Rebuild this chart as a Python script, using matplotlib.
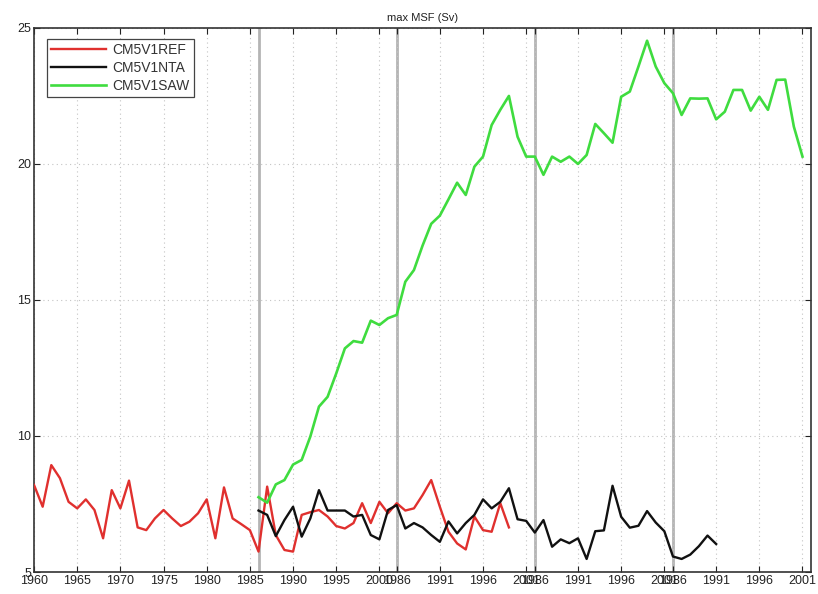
import numpy as np
import matplotlib
matplotlib.use("Agg")
import matplotlib.pyplot as plt

plt.rcParams['font.family'] = ['Liberation Sans', 'DejaVu Sans']

# max MSF (Sv) per run, plotted against a concatenated time index:
# 1960-2001 followed by three 1986-2001 blocks
ref_start = 0
ref_msf = [8.2, 7.4, 8.93, 8.45, 7.58, 7.34, 7.67, 7.28, 6.24, 8.01,
           7.34, 8.36, 6.64, 6.54, 6.97, 7.28, 6.97, 6.69, 6.85, 7.16,
           7.67, 6.24, 8.11, 6.97, 6.76, 6.54, 5.75, 8.14, 6.36, 5.81,
           5.75, 7.1, 7.2, 7.28, 7.04, 6.69, 6.6, 6.8, 7.53, 6.8,
           7.58, 7.16, 7.53, 7.26, 7.34, 7.83, 8.38, 7.4, 6.48, 6.05,
           5.83, 7.04, 6.54, 6.48, 7.53, 6.64]

nta_start = 26
nta_msf = [7.26, 7.1, 6.32, 6.91, 7.4, 6.3, 6.97, 8.01, 7.26, 7.26,
           7.26, 7.04, 7.1, 6.36, 6.2, 7.28, 7.46, 6.6, 6.8, 6.64,
           6.36, 6.11, 6.86, 6.42, 6.8, 7.1, 7.67, 7.34, 7.58, 8.08,
           6.94, 6.88, 6.45, 6.91, 5.93, 6.2, 6.06, 6.24, 5.48, 6.5,
           6.53, 8.17, 7.03, 6.63, 6.7, 7.24, 6.82, 6.5, 5.57, 5.48,
           5.64, 5.95, 6.34, 6.03]

saw_start = 26
saw_msf = [7.75, 7.55, 8.22, 8.38, 8.95, 9.12, 9.98, 11.08, 11.44, 12.3,
           13.22, 13.49, 13.43, 14.24, 14.08, 14.33, 14.45, 15.67, 16.1, 17.0,
           17.8, 18.1, 18.7, 19.31, 18.86, 19.9, 20.27, 21.43, 21.99, 22.5,
           21.0, 20.27, 20.27, 19.6, 20.27, 20.08, 20.27, 20.0, 20.33, 21.47,
           21.13, 20.78, 22.47, 22.66, 23.58, 24.53, 23.58, 22.97, 22.6, 21.8,
           22.41, 22.4, 22.41, 21.64, 21.92, 22.72, 22.72, 21.96, 22.47, 21.99,
           23.09, 23.1, 21.37, 20.27]

tick_pos = [0, 5, 10, 15, 20, 25, 30, 35, 40,
            42, 47, 52, 57, 58, 63, 68, 73, 74, 79, 84, 89]
tick_labels = ['1960', '1965', '1970', '1975', '1980', '1985', '1990', '1995', '2000',
               '1986', '1991', '1996', '2001', '1986', '1991', '1996', '2001',
               '1986', '1991', '1996', '2001']
block_starts = [26, 42, 58, 74]


def series_x(start, values):
    return np.arange(start, start + len(values))


fig = plt.figure(figsize=(8.18, 5.94), dpi=100)
ax = fig.add_axes([0.0416, 0.037, 0.95, 0.916])

for xb in block_starts:
    ax.axvline(xb, color='#b4b4b4', lw=2.0, zorder=1)

ax.plot(series_x(ref_start, ref_msf), ref_msf, color='#e0302e', lw=1.7,
        label='CM5V1REF', zorder=3)
ax.plot(series_x(nta_start, nta_msf), nta_msf, color='#111111', lw=1.7,
        label='CM5V1NTA', zorder=3)
ax.plot(series_x(saw_start, saw_msf), saw_msf, color='#3fdc3f', lw=1.9,
        label='CM5V1SAW', zorder=3)

ax.set_xlim(0, 90)
ax.set_ylim(5, 25)
ax.set_xticks(tick_pos)
ax.set_xticklabels(tick_labels)
ax.set_yticks([5, 10, 15, 20, 25])
ax.grid(True, color='#c4c4c4', linestyle=(0, (1, 3)), lw=0.8)
ax.tick_params(direction='in', top=True, right=True, labelsize=9,
               length=4, width=0.8, colors='#222222', pad=2)
for sp in ax.spines.values():
    sp.set_linewidth(1.2)
    sp.set_color('#333333')

ax.set_title('max MSF (Sv)', fontsize=8, pad=5, color='#222222')

leg = ax.legend(loc='upper left', fontsize=10, fancybox=False, framealpha=1,
                edgecolor='#444444', handlelength=3.9, handletextpad=0.5,
                borderpad=0.3, labelspacing=0.3,
                bbox_to_anchor=(0.008, 0.993))
leg.get_frame().set_linewidth(0.9)
for txt in leg.get_texts():
    txt.set_color('#333333')

fig.savefig('out.png', dpi=100)
